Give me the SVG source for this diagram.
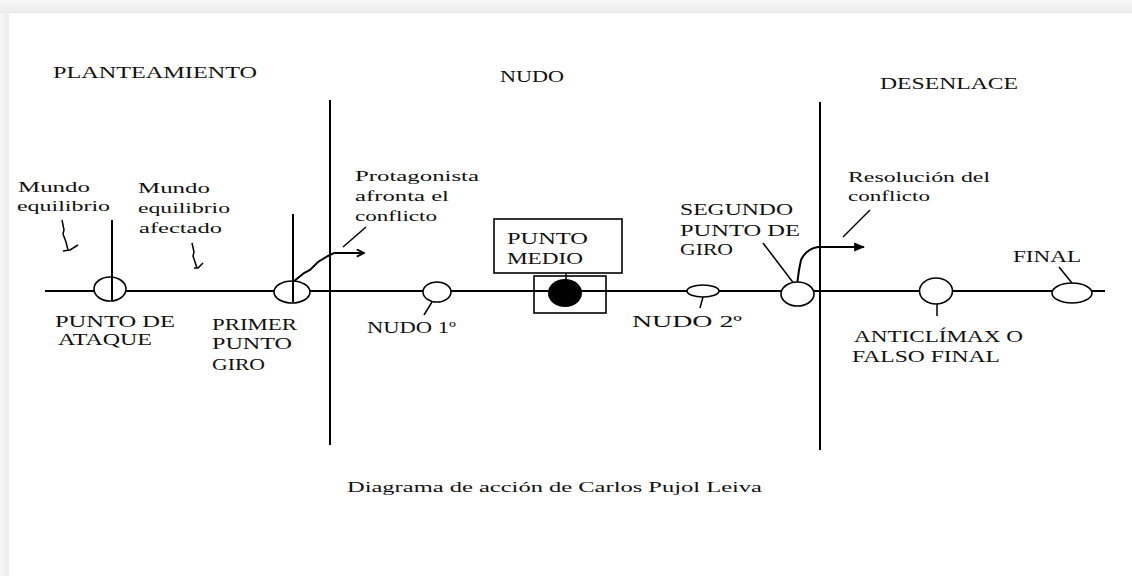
<svg xmlns="http://www.w3.org/2000/svg" width="1132" height="576" viewBox="0 0 1132 576">
<style>
text{font-family:"Liberation Serif","Times New Roman",serif;fill:#111;}
.h{font-size:16px;}
.c{font-size:16px;}
.l{font-size:15px;}
.cap{font-size:14px;}
.ln{stroke:#000;stroke-width:2;fill:none;}
.th{stroke:#000;stroke-width:1.5;fill:none;}
.nd{stroke:#000;stroke-width:1.6;fill:#fff;}
</style>
<defs>
<linearGradient id="tg" x1="0" y1="0" x2="0" y2="1"><stop offset="0" stop-color="#f7f7f7"/><stop offset="1" stop-color="#ececec"/></linearGradient>
<linearGradient id="lg" x1="0" y1="0" x2="1" y2="0"><stop offset="0" stop-color="#f7f7f7"/><stop offset="1" stop-color="#ececec"/></linearGradient>
<marker id="ao" viewBox="0 0 10 10" refX="9" refY="5" markerWidth="9" markerHeight="9" markerUnits="userSpaceOnUse" orient="auto"><path d="M1,1 L9,5 L1,9" fill="none" stroke="#000" stroke-width="2"/></marker>
<marker id="af" viewBox="0 0 10 10" refX="9" refY="5" markerWidth="11" markerHeight="11" markerUnits="userSpaceOnUse" orient="auto"><path d="M0,1 L10,5 L0,9 Z" fill="#000"/></marker>
</defs>
<rect x="0" y="0" width="1132" height="576" fill="#fff"/>
<rect x="0" y="0" width="1132" height="13" fill="url(#tg)"/>
<rect x="0" y="13" width="9" height="563" fill="url(#lg)"/>
<line x1="9" y1="12.5" x2="1132" y2="12.5" stroke="#e4e4e4" stroke-width="1"/>

<g id="sections">
<text class="h" x="53" y="78" textLength="204" lengthAdjust="spacingAndGlyphs">PLANTEAMIENTO</text>
<text class="h" x="500" y="82" textLength="64" lengthAdjust="spacingAndGlyphs">NUDO</text>
<text class="h" x="880" y="89" textLength="138" lengthAdjust="spacingAndGlyphs">DESENLACE</text>
</g>

<g id="connectors">
<line class="ln" x1="45" y1="291" x2="1105" y2="291"/>
<line class="ln" x1="330" y1="100" x2="330" y2="445"/>
<line class="ln" x1="820" y1="102" x2="820" y2="450"/>
<line class="ln" x1="112" y1="220" x2="112" y2="300"/>
<line class="ln" x1="293" y1="214" x2="293" y2="302"/>
<path class="th" d="M62,220 L64,230 L63,234 L66,242 L68,250"/>
<path class="th" d="M63,251 L70,250 L78,245"/>
<path class="th" d="M192,243 L194,252 L193,256 L197,268"/>
<path class="th" d="M194,268 L198,268 L203,263"/>
<path class="ln" d="M293,282 L304,273 L310,270 L318,262 L328,256 L334,253 L364,253" marker-end="url(#ao)"/>
<line class="th" x1="343" y1="247" x2="366" y2="227"/>
<line class="th" x1="432" y1="302" x2="424" y2="315"/>
<line class="th" x1="566" y1="273" x2="566" y2="281"/>
<line class="th" x1="703" y1="297" x2="700" y2="308"/>
<line class="th" x1="763" y1="243" x2="795" y2="285"/>
<path class="ln" d="M797,285 L799,270 L801,260 Q806,249 818,247 L822,247 L864,247" marker-end="url(#af)"/>
<line class="th" x1="843" y1="237" x2="870" y2="210"/>
<line class="th" x1="937" y1="304" x2="937" y2="316"/>
<line class="th" x1="1059" y1="267" x2="1072" y2="283"/>
</g>

<g id="mundo-equilibrio">
<text class="l" x="18" y="192" textLength="72" lengthAdjust="spacingAndGlyphs">Mundo</text>
<text class="l" x="17" y="211" textLength="93" lengthAdjust="spacingAndGlyphs">equilibrio</text>
</g>
<g id="mundo-afectado">
<text class="l" x="138" y="193" textLength="72" lengthAdjust="spacingAndGlyphs">Mundo</text>
<text class="l" x="138" y="213" textLength="92" lengthAdjust="spacingAndGlyphs">equilibrio</text>
<text class="l" x="139" y="233" textLength="83" lengthAdjust="spacingAndGlyphs">afectado</text>
</g>
<g id="punto-ataque">
<ellipse class="nd" cx="110" cy="289" rx="16" ry="12" fill="none"/>
<line class="ln" x1="112" y1="277" x2="112" y2="300"/>
<text class="c" x="55" y="327" textLength="120" lengthAdjust="spacingAndGlyphs">PUNTO DE</text>
<text class="c" x="58" y="345" textLength="94" lengthAdjust="spacingAndGlyphs">ATAQUE</text>
</g>
<g id="primer-punto-giro">
<ellipse class="nd" cx="292" cy="292" rx="18" ry="11" fill="none"/>
<line class="ln" x1="293" y1="281" x2="293" y2="302"/>
<text class="c" x="212" y="330" textLength="85" lengthAdjust="spacingAndGlyphs">PRIMER</text>
<text class="c" x="212" y="349" textLength="80" lengthAdjust="spacingAndGlyphs">PUNTO</text>
<text class="c" x="212" y="370" textLength="53" lengthAdjust="spacingAndGlyphs">GIRO</text>
</g>
<g id="protagonista">
<text class="l" x="355" y="181" textLength="124" lengthAdjust="spacingAndGlyphs">Protagonista</text>
<text class="l" x="355" y="201" textLength="94" lengthAdjust="spacingAndGlyphs">afronta el</text>
<text class="l" x="355" y="221" textLength="82" lengthAdjust="spacingAndGlyphs">conflicto</text>
</g>
<g id="nudo1">
<ellipse class="nd" cx="437" cy="292" rx="14" ry="10"/>
<text class="c" x="367" y="333" textLength="89" lengthAdjust="spacingAndGlyphs">NUDO 1º</text>
</g>
<g id="punto-medio">
<rect x="494" y="219" width="128" height="54" fill="#fff" stroke="#000" stroke-width="1.6"/>
<text class="c" x="507" y="244" textLength="81" lengthAdjust="spacingAndGlyphs">PUNTO</text>
<text class="c" x="507" y="264" textLength="76" lengthAdjust="spacingAndGlyphs">MEDIO</text>
<rect x="534" y="276" width="72" height="37" fill="none" stroke="#000" stroke-width="1.6"/>
<ellipse cx="565" cy="293" rx="17" ry="14" fill="#000"/>
</g>
<g id="nudo2">
<ellipse class="nd" cx="703" cy="291" rx="16" ry="6"/>
<text class="c" x="632" y="327" textLength="110" lengthAdjust="spacingAndGlyphs">NUDO 2º</text>
</g>
<g id="segundo-punto-giro">
<ellipse class="nd" cx="797.5" cy="294" rx="16.5" ry="12"/>
<text class="c" x="680" y="215" textLength="113" lengthAdjust="spacingAndGlyphs">SEGUNDO</text>
<text class="c" x="680" y="236" textLength="120" lengthAdjust="spacingAndGlyphs">PUNTO DE</text>
<text class="c" x="680" y="255" textLength="53" lengthAdjust="spacingAndGlyphs">GIRO</text>
</g>
<g id="resolucion">
<text class="l" x="848" y="182" textLength="142" lengthAdjust="spacingAndGlyphs">Resolución del</text>
<text class="l" x="848" y="201" textLength="82" lengthAdjust="spacingAndGlyphs">conflicto</text>
</g>
<g id="anticlimax">
<ellipse class="nd" cx="936" cy="291" rx="16.5" ry="13"/>
<text class="c" x="854" y="342" textLength="169" lengthAdjust="spacingAndGlyphs">ANTICLÍMAX O</text>
<text class="c" x="852" y="362" textLength="148" lengthAdjust="spacingAndGlyphs">FALSO FINAL</text>
</g>
<g id="final">
<ellipse class="nd" cx="1072" cy="293" rx="20" ry="10"/>
<text class="c" x="1013" y="262" textLength="68" lengthAdjust="spacingAndGlyphs">FINAL</text>
</g>
<g id="caption">
<text class="cap" x="347" y="492" textLength="415" lengthAdjust="spacingAndGlyphs">Diagrama de acción de Carlos Pujol Leiva</text>
</g>
</svg>
